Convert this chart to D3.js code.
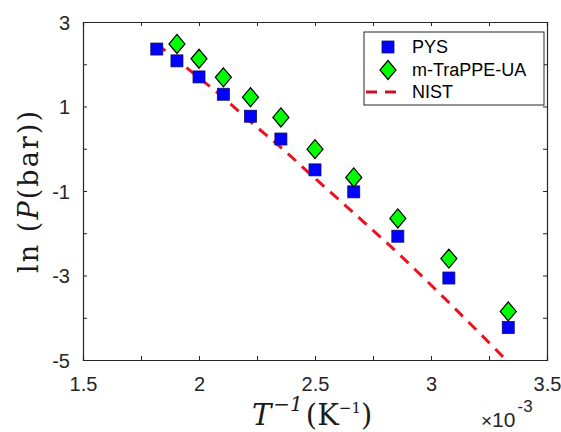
<!DOCTYPE html>
<html><head><meta charset="utf-8">
<script src="https://cdn.jsdelivr.net/npm/d3@7"></script>
<style>html,body{margin:0;padding:0;background:#fff;}svg{display:block;}</style>
</head><body><svg id="c" width="561" height="432"></svg>
<script>
// ---- data ----
const invT_PYS = [1.818, 1.905, 2.0, 2.105, 2.222, 2.353, 2.5, 2.667, 2.857, 3.077, 3.333];
const lnP_PYS  = [2.36, 2.08, 1.70, 1.29, 0.77, 0.23, -0.50, -1.02, -2.07, -3.06, -4.23];
const invT_TraPPE = [1.905, 2.0, 2.105, 2.222, 2.353, 2.5, 2.667, 2.857, 3.077, 3.333];
const lnP_TraPPE  = [2.48, 2.13, 1.69, 1.22, 0.74, -0.01, -0.68, -1.65, -2.60, -3.85];
const invT_NIST = [1.818, 1.905, 2.0, 2.105, 2.222, 2.353, 2.5, 2.667, 2.857, 3.077, 3.333];
const lnP_NIST  = [2.48, 2.10, 1.68, 1.21, 0.64, 0.03, -0.70, -1.52, -2.47, -3.64, -5.05];
const xTicks = [1.5, 1.75, 2, 2.25, 2.5, 2.75, 3, 3.25, 3.5];
const xTickLabels = ["1.5", "", "2", "", "2.5", "", "3", "", "3.5"];
const yTicks = [3, 2, 1, 0, -1, -2, -3, -4, -5];
const yTickLabels = ["3", "", "1", "", "-1", "", "-3", "", "-5"];
const legendLabels = ["PYS", "m-TraPPE-UA", "NIST"];

const L = 83, T = 22, R = 547, B = 360;
const svg = d3.select("#c");
const x = d3.scaleLinear().domain([1.5, 3.5]).range([L, R]);
const y = d3.scaleLinear().domain([-5, 3]).range([B, T]);
const axisColor = "#262626";
const sans = "'Liberation Sans', Arial, sans-serif";
const serif = "'DejaVu Serif', 'Liberation Serif', serif";

svg.append("clipPath").attr("id","clip").append("rect")
  .attr("x", L).attr("y", T).attr("width", R-L).attr("height", B-T);

// axes
const tick = 4;
const gxB = svg.append("g").attr("transform", `translate(0,${B})`)
  .call(d3.axisBottom(x).tickValues(xTicks).tickSize(-tick).tickPadding(16)
    .tickFormat((d,i)=>xTickLabels[i]));
const gxT = svg.append("g").attr("transform", `translate(0,${T})`)
  .call(d3.axisTop(x).tickValues(xTicks).tickSize(-tick).tickFormat(""));
const gyL = svg.append("g").attr("transform", `translate(${L},0)`)
  .call(d3.axisLeft(y).tickValues(yTicks).tickSize(-tick).tickPadding(13)
    .tickFormat((d,i)=>yTickLabels[i]));
const gyR = svg.append("g").attr("transform", `translate(${R},0)`)
  .call(d3.axisRight(y).tickValues(yTicks).tickSize(-tick).tickFormat(""));
[gxB,gxT,gyL,gyR].forEach(g=>{
  g.select(".domain").attr("stroke", axisColor).attr("stroke-width", 1.2);
  g.selectAll(".tick line").attr("stroke", axisColor).attr("stroke-width", 1);
  g.selectAll(".tick text").attr("fill", axisColor).style("font-family", sans).style("font-size","20px");
});
gxB.selectAll(".tick text").attr("dy","0.75em");
gyL.selectAll(".tick text").attr("dy","0.36em");

// NIST line
const nist = invT_NIST.map((v,i)=>[v, lnP_NIST[i]]);
svg.append("path").datum(nist).attr("clip-path","url(#clip)")
  .attr("d", d3.line().x(d=>x(d[0])).y(d=>y(d[1])).curve(d3.curveMonotoneX))
  .attr("fill","none").attr("stroke","#ee1122").attr("stroke-width",3)
  .attr("stroke-dasharray","11,8");

// PYS squares
const sq = 12;
svg.append("g").selectAll("rect").data(invT_PYS.map((v,i)=>[v,lnP_PYS[i]])).join("rect")
  .attr("x", d=>x(d[0])-sq/2).attr("y", d=>y(d[1])-sq/2)
  .attr("width", sq).attr("height", sq)
  .attr("fill","#0000ff").attr("stroke","#10106a").attr("stroke-width",0.8);

// TraPPE diamonds
const dw = 8, dh = 9.5;
const diamond = `M0,${-dh}L${dw},0L0,${dh}L${-dw},0Z`;
svg.append("g").selectAll("path").data(invT_TraPPE.map((v,i)=>[v,lnP_TraPPE[i]])).join("path")
  .attr("transform", d=>`translate(${x(d[0])},${y(d[1])})`)
  .attr("d", diamond).attr("fill","#00ff00").attr("stroke","#000").attr("stroke-width",1.2);

// legend
const lg = svg.append("g");
lg.append("rect").attr("x",364).attr("y",32).attr("width",180).attr("height",73)
  .attr("fill","#fff").attr("stroke",axisColor).attr("stroke-width",1);
const ly = [47, 70, 92];
lg.append("rect").attr("x",388-sq/2).attr("y",ly[0]-sq/2).attr("width",sq).attr("height",sq)
  .attr("fill","#0000ff").attr("stroke","#10106a").attr("stroke-width",0.8);
lg.append("path").attr("transform",`translate(388,${ly[1]})`).attr("d",diamond)
  .attr("fill","#00ff00").attr("stroke","#000").attr("stroke-width",1.2);
lg.append("line").attr("x1",366).attr("x2",404).attr("y1",ly[2]).attr("y2",ly[2])
  .attr("stroke","#c8102e").attr("stroke-width",3).attr("stroke-dasharray","11,8");
legendLabels.forEach((t,i)=>{
  lg.append("text").attr("x",412).attr("y",ly[i]).attr("dy","0.36em")
    .style("font-family",sans).style("font-size","18px").attr("fill","#000").text(t);
});

// axis labels
const xl = svg.append("text").attr("x",252).attr("y",425)
  .style("font-family",serif).style("font-size","29px").attr("fill","#1a1a1a");
xl.append("tspan").style("font-style","italic").text("T");
xl.append("tspan").attr("dy",-14).attr("dx",2).style("font-size","20px").style("font-style","italic").text("−1");
xl.append("tspan").attr("dy",14).attr("dx",3).text("(K");
xl.append("tspan").attr("dy",-12).style("font-size","15px").text("−1");
xl.append("tspan").attr("dy",12).text(")");

const yl = svg.append("text").attr("transform","translate(38,192) rotate(-90)")
  .attr("text-anchor","middle").attr("textLength",162).attr("lengthAdjust","spacing")
  .style("font-family",serif).style("font-size","27px").attr("fill","#1a1a1a");
yl.append("tspan").text("ln (");
yl.append("tspan").style("font-style","italic").text("P");
yl.append("tspan").text("(bar))");

const ex = svg.append("text").attr("x",481).attr("y",427)
  .style("font-family",sans).style("font-size","21px").attr("fill",axisColor);
ex.append("tspan").style("font-size","19px").text("×");
ex.append("tspan").text("10");
ex.append("tspan").attr("dy",-15).attr("dx",2).style("font-size","17px").text("-3");
</script></body></html>
